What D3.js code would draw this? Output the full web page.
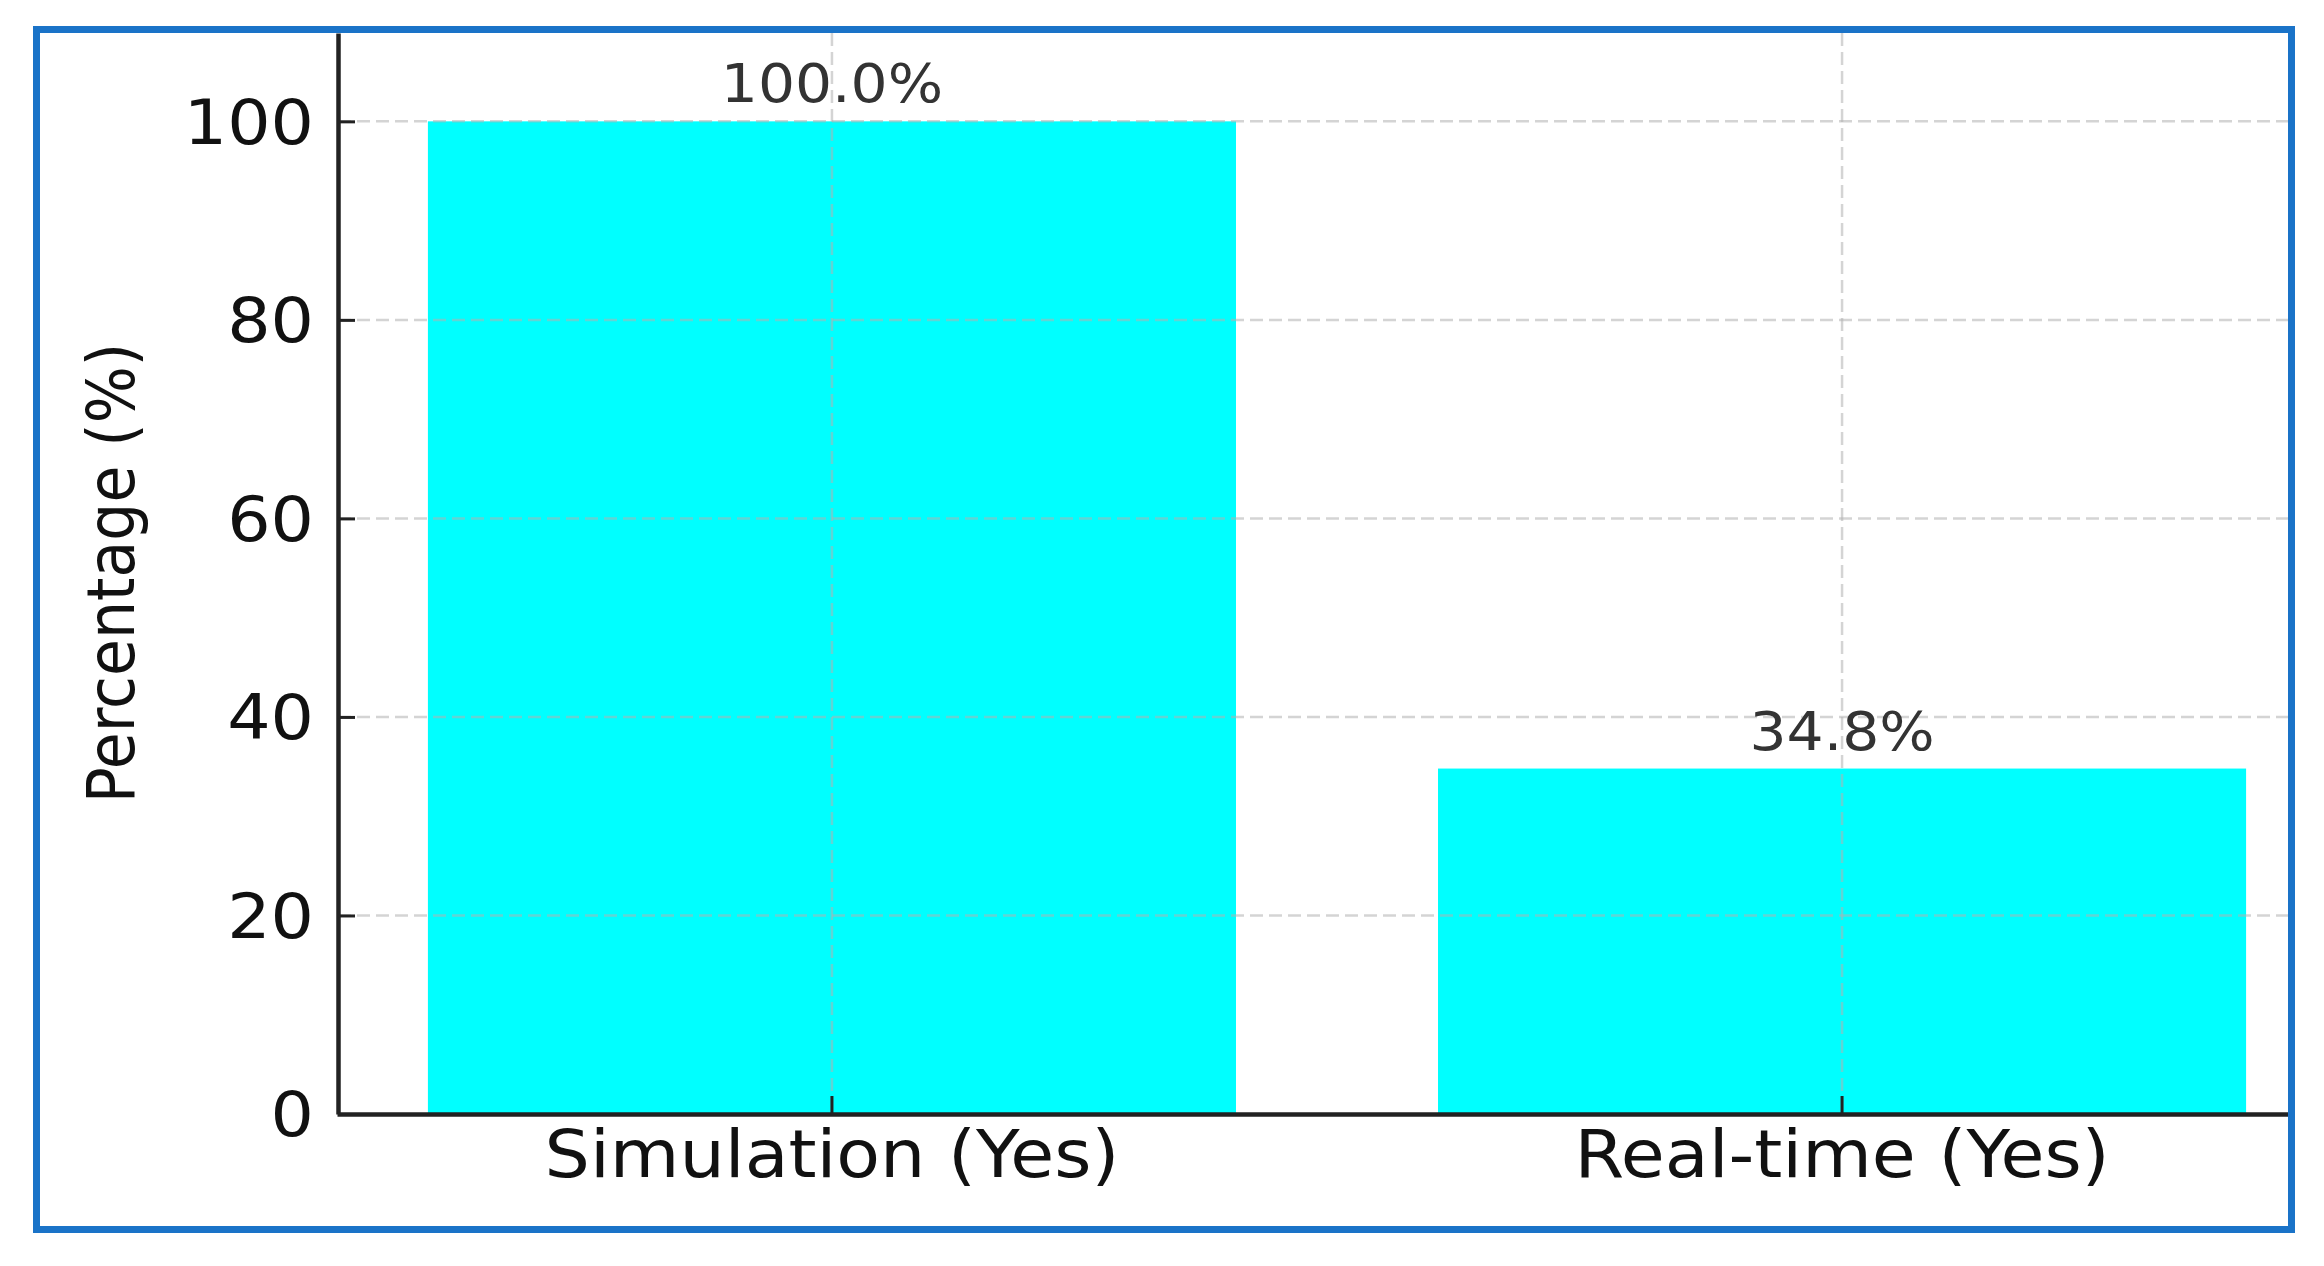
<!DOCTYPE html>
<html>
<head>
<meta charset="utf-8">
<script src="https://cdn.jsdelivr.net/npm/d3@7"></script>
<style>
  html, body { margin: 0; padding: 0; background: #fff; }
  svg { display: block; }
  text { font-family: "DejaVu Sans", sans-serif; }
</style>
</head>
<body>
<script>
// ---- data ----
const categories = ["Simulation (Yes)", "Real-time (Yes)"];
const values = [100.0, 34.8];
const valueLabels = ["100.0%", "34.8%"];
const yTicks = [0, 20, 40, 60, 80, 100];
const yLabel = "Percentage (%)";

// ---- layout ----
const W = 2324, H = 1266;
const stretch = 1.1; // horizontal stretch seen in the reference image

const svg = d3.select("body").append("svg")
  .attr("width", W).attr("height", H);

svg.append("defs").append("clipPath").attr("id", "frameclip")
  .append("rect").attr("x", 40).attr("y", 33).attr("width", 2248).attr("height", 1193);

const g = svg.append("g").attr("clip-path", "url(#frameclip)");

const x = d3.scaleBand().domain(categories).range([337, 2337])
  .paddingInner(0.2).paddingOuter(0.09);
const y = d3.scaleLinear().domain([0, 108.9]).range([1114, 33]);

// bars
g.selectAll("rect.bar").data(categories).enter().append("rect")
  .attr("class", "bar")
  .attr("x", d => x(d))
  .attr("width", x.bandwidth())
  .attr("y", (d, i) => y(values[i]))
  .attr("height", (d, i) => y(0) - y(values[i]))
  .attr("fill", "#00ffff");

// grid (drawn above bars)
const grid = g.append("g").attr("stroke", "#b0b0b0").attr("stroke-opacity", 0.55)
  .attr("stroke-width", 2.5).attr("stroke-dasharray", "13,6");
grid.selectAll("line.h").data(yTicks.filter(t => t > 0)).enter().append("line")
  .attr("x1", 338).attr("x2", 2337)
  .attr("y1", d => y(d)).attr("y2", d => y(d));
grid.selectAll("line.v").data(categories).enter().append("line")
  .attr("x1", d => x(d) + x.bandwidth() / 2).attr("x2", d => x(d) + x.bandwidth() / 2)
  .attr("y1", 33).attr("y2", y(0));

// y axis
const yAxis = g.append("g").attr("transform", "translate(338,0)")
  .call(d3.axisLeft(y).tickValues(yTicks).tickSizeInner(-17).tickSizeOuter(0).tickPadding(25));
yAxis.select(".domain").attr("stroke", "#222").attr("stroke-width", 4.5);
yAxis.selectAll(".tick line").attr("stroke", "#222").attr("stroke-width", 3);
yAxis.selectAll(".tick text").remove();

// x axis
const xAxis = g.append("g").attr("transform", "translate(0,1114)")
  .call(d3.axisBottom(x).tickSizeInner(-18).tickSizeOuter(0));
xAxis.select(".domain").attr("stroke", "#222").attr("stroke-width", 4.5);
xAxis.selectAll(".tick line").attr("stroke", "#222").attr("stroke-width", 3);
xAxis.selectAll(".tick text").remove();

// y tick labels (outside the clip)
svg.append("g").selectAll("text").data(yTicks).enter().append("text")
  .attr("transform", d => `translate(314,${y(d)}) scale(${stretch},1)`)
  .attr("text-anchor", "end")
  .attr("dy", "0.36em")
  .attr("font-size", 62)
  .attr("fill", "#111")
  .text(d => d);

// x tick labels
svg.append("g").selectAll("text").data(categories).enter().append("text")
  .attr("transform", d => `translate(${x(d) + x.bandwidth() / 2},1177) scale(${stretch},1)`)
  .attr("text-anchor", "middle")
  .attr("font-size", 65)
  .attr("fill", "#111")
  .text(d => d);

// value labels
svg.append("g").selectAll("text").data(categories).enter().append("text")
  .attr("transform", (d, i) => `translate(${x(d) + x.bandwidth() / 2},${y(values[i]) - 19}) scale(${stretch},1)`)
  .attr("text-anchor", "middle")
  .attr("font-size", 53)
  .attr("fill", "#333")
  .text((d, i) => valueLabels[i]);

// y axis label
svg.append("text")
  .attr("transform", `translate(134,573) scale(${stretch},1) rotate(-90)`)
  .attr("text-anchor", "middle")
  .attr("font-size", 60)
  .attr("fill", "#111")
  .text(yLabel);

// blue frame
svg.append("rect")
  .attr("x", 36.5).attr("y", 29.5).attr("width", 2255).attr("height", 1200)
  .attr("fill", "none").attr("stroke", "#1a73c8").attr("stroke-width", 7);
</script>
</body>
</html>
